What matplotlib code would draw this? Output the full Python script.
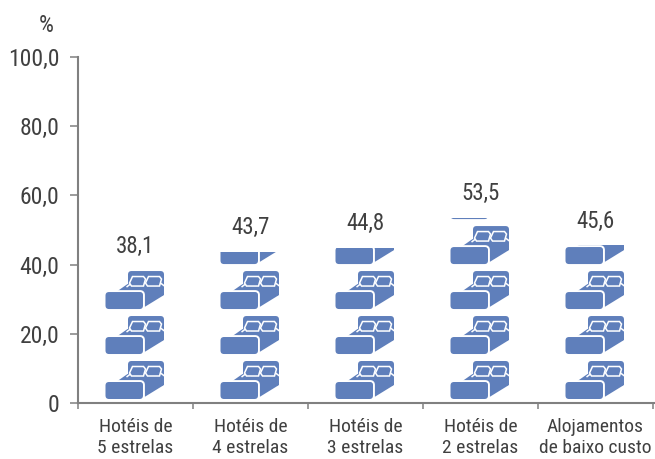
import matplotlib
matplotlib.use("Agg")
import matplotlib.pyplot as plt
from matplotlib.path import Path
from matplotlib.patches import PathPatch
from matplotlib.transforms import Affine2D

# Data
categories = ["Hotéis de\n5 estrelas", "Hotéis de\n4 estrelas", "Hotéis de\n3 estrelas",
              "Hotéis de\n2 estrelas", "Alojamentos\nde baixo custo"]
values = [38.1, 43.7, 44.8, 53.5, 45.6]
value_labels = ["38,1", "43,7", "44,8", "53,5", "45,6"]
y_ticks = [0, 20, 40, 60, 80, 100]
y_tick_labels = ["0", "20,0", "40,0", "60,0", "80,0", "100,0"]

# Style
blue = "#5f7fbb"
text_color = "#404040"
axis_color = "#808080"
icon_step = 13.0  # one bed per 13 percentage points
plt.rcParams["font.family"] = ["Roboto Condensed", "Liberation Sans"]


def rounded(x0, y0, x1, y1, r):
    verts = [(x0 + r, y0), (x1 - r, y0), (x1, y0), (x1, y0 + r), (x1, y1 - r), (x1, y1),
             (x1 - r, y1), (x0 + r, y1), (x0, y1), (x0, y1 - r), (x0, y0 + r), (x0, y0),
             (x0 + r, y0), (x0 + r, y0)]
    codes = [Path.MOVETO, Path.LINETO, Path.CURVE3, Path.CURVE3, Path.LINETO, Path.CURVE3,
             Path.CURVE3, Path.LINETO, Path.CURVE3, Path.CURVE3, Path.LINETO, Path.CURVE3,
             Path.CURVE3, Path.CLOSEPOLY]
    return Path(verts, codes)


# Bed glyph, drawn in pixels from the centre of its foot
headboard = rounded(-7.5, 13, 28.5, 38, 3.5)
body = Path([(-18, 18), (-8, 25), (28.5, 24), (28.5, 14), (9, 2), (4, 15), (-18, 18)], closed=True)
mattress = rounded(-30, 0, 7.5, 17, 3.5)
mattress_edge = Path([(-30, 17.8), (4.5, 17.8), (8.3, 17.8), (8.3, 14), (8.3, 0)],
                     [Path.MOVETO, Path.LINETO, Path.CURVE3, Path.CURVE3, Path.LINETO])
pillow_l = Path([(-3, 32.5), (8, 32.5), (10, 30), (8, 23), (-4, 23), (-6, 26), (-3, 32.5)], closed=True)
pillow_r = Path([(13, 32.5), (24, 32.5), (26, 30), (24, 23), (12, 23), (10, 26), (13, 32.5)], closed=True)
glass_arm = Path([(25, 26), (29, 23)])
glass_arm_l = Path([(-5, 25), (-9, 22)])

fig = plt.figure(figsize=(6.55, 4.59), dpi=100)
ax = fig.add_axes([78 / 655, (459 - 403) / 459, 577 / 655, 346 / 459])
ax.set_xlim(0, 577 / 115)
ax.set_ylim(0, 100)

x_pos = [i + 0.5 for i in range(len(categories))]
bars = ax.bar(x_pos, values, width=0.6, color="none", edgecolor="none")

px_x = 1 / 115
px_y = 100 / 346
for x, v, bar, lab in zip(x_pos, values, bars, value_labels):
    n = 0
    while n * icon_step < v:
        tr = Affine2D().scale(px_x, px_y).translate(x, n * icon_step + 4 * px_y) + ax.transData
        shapes = [(headboard, blue, "none", 0), (body, blue, "none", 0),
                  (mattress_edge, "none", "white", 1.6), (mattress, blue, "none", 0),
                  (pillow_l, "none", "white", 1.1), (pillow_r, "none", "white", 1.1),
                  (glass_arm, "none", "white", 1.1), (glass_arm_l, "none", "white", 1.1)]
        for path, fc, ec, lw in shapes:
            p = PathPatch(path, facecolor=fc, edgecolor=ec, linewidth=lw, transform=tr)
            ax.add_patch(p)
            p.set_clip_path(bar)
        n += 1
    ax.text(x, v + 7.0, lab, ha="center", va="center", fontsize=16.5, color=text_color)

ax.spines["top"].set_visible(False)
ax.spines["right"].set_visible(False)
for s in ["left", "bottom"]:
    ax.spines[s].set_color(axis_color)
    ax.spines[s].set_linewidth(1.5)

ax.set_yticks(y_ticks)
ax.set_yticklabels(y_tick_labels, fontsize=17, color=text_color)
ax.tick_params(axis="y", length=6, width=1.1, color=axis_color, pad=7.5)

ax.set_xticks(range(len(categories) + 1))
ax.set_xticklabels([])
ax.tick_params(axis="x", which="major", length=4.5, width=1.1, color=axis_color)
ax.set_xticks(x_pos, minor=True)
ax.set_xticklabels(categories, minor=True, fontsize=14, color=text_color, linespacing=1.25)
ax.tick_params(axis="x", which="minor", length=0, pad=10.5)

fig.text(46 / 655, 1 - 25 / 459, "%", ha="center", va="center", fontsize=17, color=text_color)

fig.savefig("out.png", dpi=100)
